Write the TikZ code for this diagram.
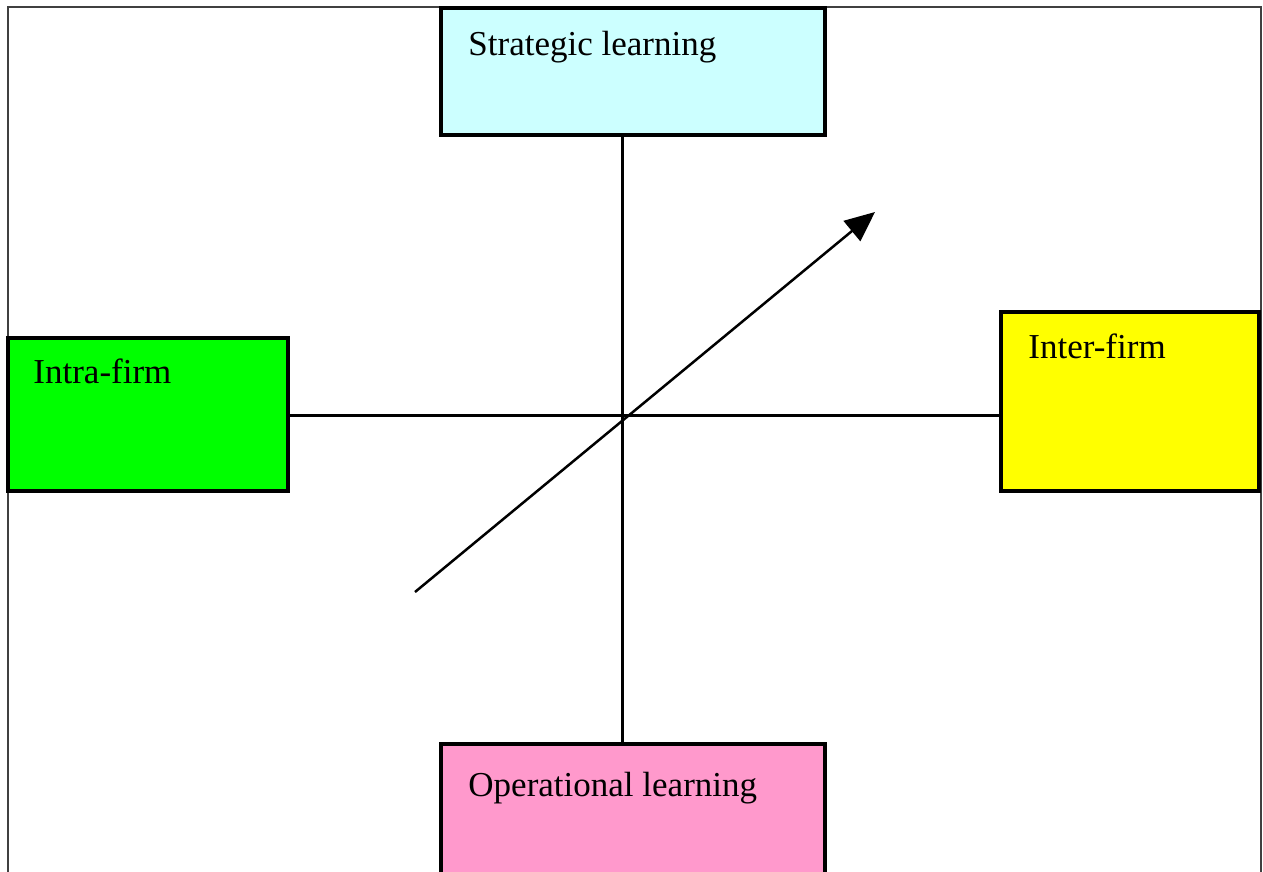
\documentclass[tikz,border=0pt]{standalone}
\usepackage{fontspec}
\setmainfont{Liberation Serif}
\usepackage{tikz}
\usetikzlibrary{arrows.meta}
\definecolor{stratcol}{RGB}{204,255,255}
\definecolor{intracol}{RGB}{0,255,0}
\definecolor{intercol}{RGB}{255,255,0}
\definecolor{opercol}{RGB}{255,153,204}

\begin{document}
\begin{tikzpicture}[x=1pt,y=-1pt,
    box/.style={draw,line width=3.5pt,inner sep=0pt,rectangle},
    lbl/.style={anchor=base west,inner sep=0pt,font=\fontsize{35}{40}\selectfont}]
                 \useasboundingbox (0,0) rectangle (1263,871);
                 \clip (0,0) rectangle (1263,871);
                 \draw[line width=2.5pt,color=black!75] (8,880) -- (8,7) -- (1261,7) -- (1261,880);
                 \node[box,fill=stratcol,minimum width=384pt,minimum height=127pt](strat)at(633,71.5){};
                 \node[box,fill=intracol,minimum width=280pt,minimum height=153pt](intra)at(148,414.5){};
                 \node[box,fill=intercol,minimum width=258pt,minimum height=179pt](inter)at(1130,401.5){};
                 \node[box,fill=opercol,minimum width=384pt,minimum height=140pt](oper)at(633,814){};
                 \node[lbl](stext)at([shift={(29,49)}]strat.north west){Strategic learning};
                 \node[lbl](atext)at([shift={(27,47)}]intra.north west){Intra-firm};
                 \node[lbl](etext)at([shift={(29,48)}]inter.north west){Inter-firm};
                 \node[lbl](otext)at([shift={(29,54)}]oper.north west){Operational learning};
                 \coordinate (o) at (622,415);
                 \draw[line width=3pt] (strat.south -| o) -- (oper.north -| o);
                 \draw[line width=3pt] (intra.east |- o) -- (inter.west |- o);
                 \coordinate (tail) at (415,592);
                 \coordinate (head) at (875,212);
                 \draw[line width=2.5pt,-{Triangle[length=30pt,width=26pt]}] (tail) -- (head);
               \end{tikzpicture}
\end{document}
